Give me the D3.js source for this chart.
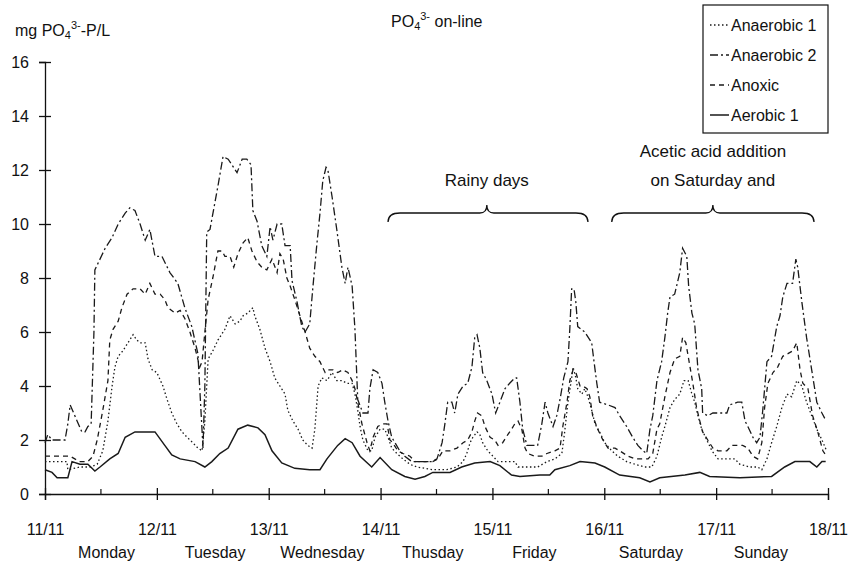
<!DOCTYPE html>
<html>
<head>
<meta charset="utf-8">
<script src="https://cdn.jsdelivr.net/npm/d3@7/dist/d3.min.js"></script>
<style>
  body { margin: 0; background: #fff; }
  svg text { font-family: "Liberation Sans", Arial, sans-serif; fill: #111; }
</style>
</head>
<body>
<svg id="chart" width="851" height="563"></svg>
<script>
// PO4 on-line, hourly readings from 11/11 00:00 (hours, mg PO4-P/L)
const anaerobic2 = [
  [0,1.9],[0.6,2.2],[1.5,2.0],[4.3,2.0],[4.9,2.6],[5.4,3.3],[6.4,2.9],[7.9,2.3],[8.6,2.3],[9.2,2.5],
  [9.9,2.6],[10.5,6.0],[10.7,8.3],[11.8,8.7],[12.9,9.1],[14.4,9.5],[15.7,10.0],[17.2,10.4],[18.2,10.6],
  [19.3,10.5],[20.4,10.0],[21.5,9.4],[22.5,9.8],[23.6,8.8],[25.1,8.8],[26.8,8.2],[28.5,7.8],[30.0,6.9],
  [31.5,6.2],[32.8,5.2],[33.9,1.7],[34.3,4.0],[34.7,9.7],[35.4,9.8],[37.1,11.4],[38.2,12.5],[39.3,12.4],
  [41.2,11.9],[42.3,12.4],[43.3,12.4],[44.2,12.2],[44.6,10.5],[45.5,10.1],[46.5,9.2],[47.6,8.8],
  [48.3,9.9],[48.9,9.4],[49.8,10.0],[50.8,10.0],[51.5,9.2],[52.6,9.2],[53.0,7.9],[54.1,7.1],[55.1,6.2],
  [55.8,6.0],[56.8,6.3],[57.5,7.7],[58.3,9.2],[59.0,10.4],[59.6,11.6],[60.3,12.1],[60.7,12.0],
  [61.6,11.0],[62.6,9.8],[63.7,8.4],[64.4,7.8],[65.0,8.4],[65.9,7.7],[66.5,6.1],[67.1,3.5],[68.2,3.0],
  [69.3,3.0],[69.7,3.9],[70.4,4.6],[71.4,4.5],[72.3,4.1],[72.9,3.4],[73.6,2.7],[74.4,2.1],[75.1,1.9],
  [76.1,1.6],[77.2,1.4],[78.7,1.2],[83.0,1.2],[84.1,1.3],[85.2,1.9],[85.8,2.6],[86.4,3.4],[87.3,3.4],
  [87.9,3.0],[88.6,3.7],[89.7,4.0],[90.7,4.1],[91.6,4.7],[92.2,5.8],[92.7,5.9],[93.3,5.4],[93.9,4.5],
  [94.8,4.2],[95.9,3.7],[96.7,3.0],[97.6,3.4],[98.7,3.9],[99.7,4.1],[100.8,4.3],[101.2,4.3],[101.9,3.4],
  [102.5,2.4],[103.4,1.8],[105.7,1.8],[106.6,2.6],[107.3,3.4],[107.9,3.0],[109.0,2.5],[109.8,2.9],
  [110.5,3.5],[111.3,4.3],[112.2,4.9],[112.6,6.1],[113.0,7.6],[113.5,7.6],[113.9,7.1],[114.3,6.2],
  [115.8,6.0],[117.3,5.6],[117.8,4.9],[118.4,4.1],[119.0,3.4],[120.8,3.3],[122.3,3.2],[123.3,2.9],
  [124.8,2.5],[126.1,2.1],[127.2,1.8],[128.3,1.6],[129.1,1.5],[129.8,2.4],[130.4,2.9],[131.3,4.2],
  [132.3,4.9],[133.0,5.8],[133.6,6.7],[134.1,7.3],[135.1,7.4],[136.2,8.2],[136.8,9.1],[137.7,8.8],
  [138.1,7.7],[138.8,6.7],[139.4,6.3],[140.1,4.6],[140.9,3.9],[141.1,3.0],[142.2,2.9],[143.3,3.0],
  [146.3,3.0],[146.9,3.3],[148.6,3.4],[149.5,3.4],[150.2,2.7],[150.8,2.5],[151.9,2.1],[152.7,1.9],
  [153.4,2.1],[154.0,3.1],[154.9,4.9],[155.9,5.1],[157.0,6.2],[157.7,6.6],[158.3,7.3],[159.2,7.8],
  [160.4,7.8],[161.1,8.7],[161.5,8.4],[162.4,7.1],[163.4,5.8],[164.5,4.6],[165.6,3.4],[166.7,3.0],
  [167.3,2.8]
];

const anoxic = [
  [0,1.4],[3.2,1.4],[5.4,1.4],[6.4,1.3],[7.5,1.2],[9.2,1.2],[10.3,1.4],[11.2,2.0],[12.4,3.1],[13.5,4.2],
  [13.9,5.7],[14.6,6.1],[15.7,6.4],[16.5,6.9],[17.6,7.4],[18.9,7.6],[20.4,7.6],[21.5,7.4],[22.5,7.8],
  [23.6,7.4],[24.7,7.4],[25.7,7.2],[26.4,6.9],[27.9,6.7],[29.0,6.8],[30.0,6.5],[31.1,6.0],[32.2,5.4],
  [33.2,4.7],[33.7,4.9],[34.3,6.0],[35.0,7.2],[36.0,8.0],[37.1,9.0],[38.0,9.0],[38.6,8.8],[39.7,8.8],
  [40.5,8.4],[41.4,8.9],[42.5,9.3],[43.5,9.5],[44.4,9.0],[45.5,8.6],[46.5,8.4],[47.6,8.3],[48.7,8.7],
  [49.8,8.2],[50.4,8.9],[51.1,8.7],[51.9,8.0],[52.6,7.7],[53.6,7.2],[54.7,6.6],[55.8,6.0],[56.8,5.4],
  [57.9,5.1],[59.0,4.9],[60.1,4.5],[60.7,4.6],[61.8,4.6],[62.8,4.5],[63.9,4.6],[65.0,4.5],[65.9,4.2],
  [66.5,3.9],[67.1,3.4],[68.0,2.6],[69.1,1.9],[69.7,1.6],[70.4,2.1],[71.4,2.5],[72.5,2.6],[73.4,2.6],
  [74.0,2.0],[74.6,1.9],[75.7,1.6],[76.8,1.5],[78.3,1.4],[79.4,1.2],[83.2,1.2],[84.3,1.3],[85.4,1.6],
  [86.9,1.6],[88.4,1.7],[89.7,1.9],[90.7,2.0],[91.6,2.3],[92.2,2.7],[92.8,3.0],[93.7,2.9],[94.4,2.5],
  [95.5,2.1],[96.5,2.0],[97.2,1.8],[98.2,1.9],[99.3,2.2],[100.1,2.4],[100.8,2.6],[101.5,2.7],[102.3,2.4],
  [103.0,1.7],[103.6,1.5],[105.1,1.4],[106.6,1.4],[107.7,1.5],[109.4,1.6],[110.5,1.7],[111.1,2.5],
  [112.0,3.4],[112.6,4.2],[113.3,4.6],[113.9,4.5],[114.8,4.0],[115.4,4.0],[116.3,3.9],[116.9,3.6],
  [117.5,2.9],[118.6,2.4],[119.7,2.0],[120.8,1.7],[122.3,1.7],[123.3,1.6],[125.1,1.4],[126.6,1.3],
  [128.1,1.3],[129.4,1.3],[130.4,1.5],[131.3,2.4],[131.9,2.6],[133.0,3.6],[134.1,4.5],[135.1,5.0],
  [136.2,5.1],[136.8,5.8],[137.5,5.6],[138.1,5.0],[139.0,4.1],[139.8,3.2],[140.5,2.7],[141.1,2.3],
  [142.2,2.0],[143.3,1.7],[144.4,1.6],[146.3,1.6],[147.4,1.8],[149.7,1.8],[150.8,1.7],[151.9,1.4],
  [152.9,1.3],[153.8,1.9],[154.4,3.2],[155.1,4.1],[156.2,4.5],[157.2,4.7],[158.3,5.1],[159.4,5.2],
  [160.4,5.3],[161.3,5.6],[162.0,4.6],[162.6,4.1],[163.7,3.9],[164.7,2.9],[165.8,2.3],[166.9,1.6],
  [167.7,1.4]
];

const anaerobic1 = [
  [0,1.2],[4.7,1.2],[4.9,0.9],[7.5,1.0],[9.7,1.0],[11.2,1.1],[12.4,1.6],[13.5,2.7],[14.4,4.0],[15.0,4.7],
  [15.7,5.1],[16.7,5.3],[17.8,5.6],[18.9,5.9],[19.7,5.7],[20.4,5.6],[21.5,5.6],[22.1,5.0],[23.0,4.6],
  [24.0,4.5],[25.3,4.0],[26.2,3.5],[27.2,3.0],[28.3,2.6],[29.4,2.3],[30.5,2.1],[31.7,1.9],[32.8,1.7],
  [33.7,1.6],[34.3,2.7],[35.0,5.0],[36.0,5.3],[37.1,5.7],[38.6,6.1],[39.7,6.6],[40.8,6.3],[41.8,6.4],
  [42.5,6.6],[43.5,6.7],[44.6,6.9],[45.0,6.6],[46.1,6.1],[47.2,5.4],[48.3,4.9],[49.3,4.3],[50.4,4.0],
  [51.5,3.7],[52.1,3.1],[53.2,2.7],[54.3,2.4],[55.3,2.0],[56.4,1.8],[57.3,1.7],[57.9,2.4],[58.6,4.0],
  [59.4,4.3],[60.5,4.2],[61.6,4.5],[62.6,4.2],[63.7,4.2],[64.8,4.1],[65.9,4.1],[66.5,3.7],[67.1,3.1],
  [67.6,2.5],[68.2,2.0],[69.3,1.6],[70.1,1.6],[70.8,2.1],[71.9,2.4],[72.9,2.4],[73.6,2.1],[74.4,1.7],
  [75.5,1.5],[76.8,1.3],[78.3,1.1],[79.8,1.0],[83.2,0.9],[86.2,0.9],[88.4,1.0],[89.7,1.2],[90.5,1.5],
  [91.2,1.9],[91.8,2.1],[92.7,2.3],[93.3,2.2],[93.9,1.9],[95.0,1.6],[96.1,1.4],[97.2,1.2],[100.8,1.2],
  [101.5,1.0],[103.0,1.0],[105.7,1.0],[107.7,1.2],[109.4,1.3],[110.9,1.5],[111.5,2.3],[112.2,3.4],
  [113.0,4.3],[113.3,4.7],[113.9,4.3],[114.3,3.9],[115.2,3.7],[115.8,3.9],[116.5,3.6],[117.3,3.1],
  [118.0,2.6],[119.0,2.3],[120.1,1.9],[121.6,1.6],[122.9,1.4],[124.8,1.2],[126.6,1.1],[128.7,1.0],
  [130.2,1.0],[131.3,1.4],[132.3,2.1],[133.0,2.5],[134.1,3.2],[135.1,3.5],[136.2,3.7],[137.1,4.2],
  [138.0,4.2],[138.8,3.7],[139.4,3.4],[140.1,2.9],[140.9,2.4],[142.0,2.0],[143.1,1.6],[144.4,1.3],
  [148.0,1.3],[149.1,1.1],[151.2,1.0],[152.9,1.0],[153.8,0.9],[154.9,1.3],[155.9,1.9],[157.0,2.5],
  [158.1,3.2],[159.2,3.7],[160.2,3.6],[161.3,4.2],[162.4,4.0],[163.4,3.4],[164.5,2.9],[165.6,2.4],
  [166.7,2.0],[167.7,1.6]
];

const aerobic1 = [
  [0,0.9],[1.5,0.8],[2.6,0.6],[4.9,0.6],[5.8,1.2],[7.5,1.1],[9.2,1.1],[10.7,0.85],[11.8,1.0],[13.9,1.3],
  [15.7,1.5],[17.2,2.1],[19.3,2.3],[21.5,2.3],[23.6,2.3],[25.7,1.8],[27.2,1.45],[29.0,1.3],[32.2,1.2],
  [34.3,1.0],[35.8,1.2],[37.5,1.5],[39.3,1.7],[41.4,2.4],[43.5,2.55],[45.7,2.45],[47.2,2.2],[48.7,1.6],
  [50.8,1.15],[53.6,0.95],[56.8,0.9],[59.0,0.9],[60.5,1.3],[62.8,1.8],[64.4,2.05],[65.9,1.9],[67.6,1.4],
  [70.1,1.0],[71.9,1.35],[74.4,0.9],[77.2,0.65],[79.4,0.55],[81.5,0.65],[83.2,0.8],[86.9,0.8],[89.4,1.0],
  [92.2,1.15],[95.5,1.2],[97.6,1.05],[100.1,0.7],[101.9,0.65],[106.2,0.7],[108.3,0.7],[109.4,0.9],
  [112.6,1.05],[114.8,1.2],[118.0,1.15],[120.1,1.0],[123.3,0.7],[127.6,0.6],[129.8,0.45],[131.9,0.6],
  [137.3,0.7],[140.5,0.8],[142.6,0.65],[149.1,0.6],[155.9,0.65],[158.7,1.0],[160.9,1.2],[164.1,1.2],
  [165.6,1.0],[166.7,1.2],[167.5,1.2]
];

const seriesNames = ["Anaerobic 1", "Anaerobic 2", "Anoxic", "Aerobic 1"];
const seriesData = [anaerobic1, anaerobic2, anoxic, aerobic1];
const seriesDash = ["1.5,2.5", "8,3,2,3", "5,4", null];

const dateTicks = [0, 24, 48, 72, 96, 120, 144, 168];
const dateLabels = ["11/11", "12/11", "13/11", "14/11", "15/11", "16/11", "17/11", "18/11"];
const noonTicks = [12, 36, 60, 84, 108, 132, 156];
const dayNames = ["Monday", "Tuesday", "Wednesday", "Thusday", "Friday", "Saturday", "Sunday"];
const dayLabelHours = [13.2, 36.5, 59.5, 83.2, 105, 130, 153.6];
const yTicks = [0, 2, 4, 6, 8, 10, 12, 14, 16];

const notes = [
  { from: 73.6, to: 116.5, tip: 94.8, lines: ["Rainy days"] },
  { from: 121.6, to: 165.0, tip: 143.3, lines: ["Acetic acid addition", "on Saturday and"] }
];

const svg = d3.select("#chart");
const x = d3.scaleLinear().domain([0, 168]).range([45, 828]);
const y = d3.scaleLinear().domain([0, 16]).range([494, 62]);

// y axis, ticks crossing the line
const yAxis = svg.append("g").attr("transform", `translate(${x(0)},0)`)
  .call(d3.axisLeft(y).tickValues(yTicks).tickSize(6).tickPadding(10));
yAxis.select(".domain").attr("stroke", "#111").attr("stroke-width", 1.3);
yAxis.selectAll(".tick line").attr("x1", -6).attr("x2", 6).attr("stroke", "#111").attr("stroke-width", 1.3);
yAxis.selectAll(".tick text").attr("x", -16).style("font-size", "16px")
  .style("font-family", "'Liberation Sans', Arial, sans-serif").attr("fill", "#111");

// x axis
const xAxis = svg.append("g").attr("transform", `translate(0,${y(0)})`)
  .call(d3.axisBottom(x).tickValues(dateTicks).tickFormat((d, i) => dateLabels[i]).tickSize(6).tickPadding(24));
xAxis.select(".domain").attr("stroke", "#111").attr("stroke-width", 1.3);
xAxis.selectAll(".tick line").attr("y1", -6).attr("y2", 6).attr("stroke", "#111").attr("stroke-width", 1.3);
xAxis.selectAll(".tick text").style("font-size", "16px")
  .style("font-family", "'Liberation Sans', Arial, sans-serif").attr("fill", "#111");

svg.append("g").selectAll("line").data(noonTicks).enter().append("line")
  .attr("x1", d => x(d)).attr("x2", d => x(d))
  .attr("y1", y(0) - 5).attr("y2", y(0))
  .attr("stroke", "#111").attr("stroke-width", 1.2);

svg.append("g").selectAll("text").data(dayNames).enter().append("text")
  .attr("x", (d, i) => x(dayLabelHours[i])).attr("y", 558)
  .attr("text-anchor", "middle").style("font-size", "16px")
  .text(d => d);

// series lines
const line = d3.line().x(d => x(d[0])).y(d => y(d[1]));
svg.append("g").selectAll("path").data(seriesData).enter().append("path")
  .attr("d", line)
  .attr("fill", "none")
  .attr("stroke", "#1a1a1a")
  .attr("stroke-width", (d, i) => i === 3 ? 1.5 : 1.3)
  .attr("stroke-dasharray", (d, i) => seriesDash[i]);

// axis titles
const yTitle = svg.append("text").attr("x", 15).attr("y", 36).style("font-size", "16px");
yTitle.append("tspan").text("mg PO");
yTitle.append("tspan").attr("dy", 3).style("font-size", "11px").text("4");
yTitle.append("tspan").attr("dy", -10).style("font-size", "11px").text("3-");
yTitle.append("tspan").attr("dy", 7).text("-P/L");

const title = svg.append("text").attr("x", 391).attr("y", 27).style("font-size", "16px");
title.append("tspan").text("PO");
title.append("tspan").attr("dy", 3).style("font-size", "11px").text("4");
title.append("tspan").attr("dy", -10).style("font-size", "11px").text("3-");
title.append("tspan").attr("dy", 7).text(" on-line");

// annotations with braces
notes.forEach(n => {
  const x0 = x(n.from), x1 = x(n.to), xm = x(n.tip);
  const yb = 213;
  svg.append("path")
    .attr("d", `M${x0},${yb + 9} Q${x0},${yb} ${x0 + 12},${yb} L${xm - 7},${yb} Q${xm},${yb} ${xm},${yb - 8}` +
      ` Q${xm},${yb} ${xm + 7},${yb} L${x1 - 12},${yb} Q${x1},${yb} ${x1},${yb + 9}`)
    .attr("fill", "none").attr("stroke", "#111").attr("stroke-width", 1.3);
  n.lines.forEach((t, i) => {
    svg.append("text")
      .attr("x", xm).attr("y", 186 - (n.lines.length - 1 - i) * 29)
      .attr("text-anchor", "middle").style("font-size", "17px")
      .text(t);
  });
});

// legend
const legend = svg.append("g");
legend.append("rect").attr("x", 703).attr("y", 5).attr("width", 125).attr("height", 128)
  .attr("fill", "#fff").attr("stroke", "#111").attr("stroke-width", 1.2);
seriesNames.forEach((name, i) => {
  const ly = 25 + i * 30;
  legend.append("line").attr("x1", 710).attr("x2", 729).attr("y1", ly).attr("y2", ly)
    .attr("stroke", "#1a1a1a").attr("stroke-width", i === 3 ? 1.5 : 1.3)
    .attr("stroke-dasharray", seriesDash[i]);
  legend.append("text").attr("x", 731).attr("y", ly + 6).style("font-size", "16px").text(name);
});
</script>
</body>
</html>
